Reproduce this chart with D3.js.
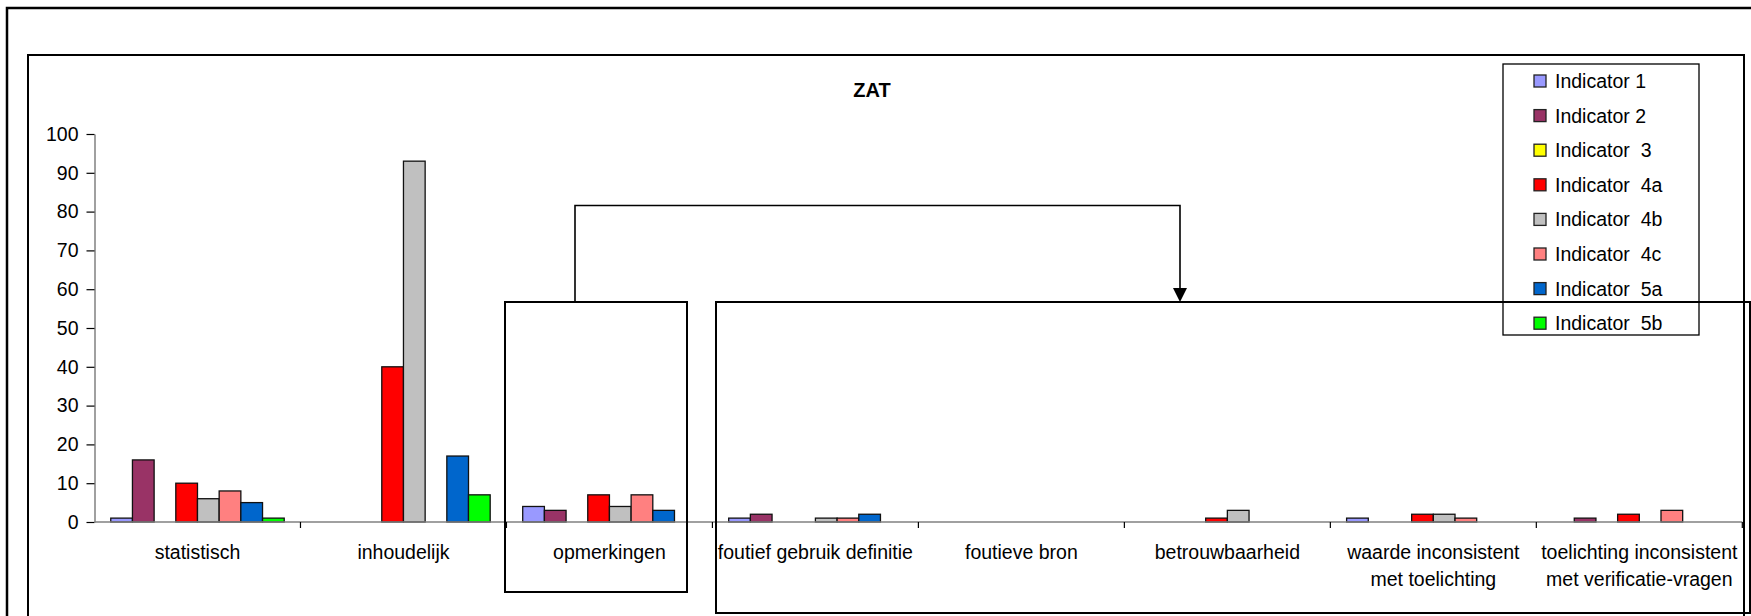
<!DOCTYPE html>
<html>
<head>
<meta charset="utf-8">
<style>
body {
    margin: 0;
    background: white;
}
.lbl {
    font-size: 19.5px;
    font-family: "Liberation Sans", Arial, sans-serif;
    fill: #000;
}
.title {
    font-size: 20px;
    font-weight: bold;
    font-family: "Liberation Sans", Arial, sans-serif;
}
</style>
<script src="https://d3js.org/d3.v7.min.js" charset="utf-8"></script>
</head>
<body>
<div id="chart"></div>
<script>
var categories = ["statistisch",
                  "inhoudelijk",
                  "opmerkingen",
                  "foutief gebruik definitie",
                  "foutieve bron",
                  "betrouwbaarheid",
                  "waarde inconsistent\nmet toelichting",
                  "toelichting inconsistent\nmet verificatie-vragen"];
var seriesNames = ["Indicator 1",
                   "Indicator 2",
                   "Indicator  3",
                   "Indicator  4a",
                   "Indicator  4b",
                   "Indicator  4c",
                   "Indicator  5a",
                   "Indicator  5b"];
var seriesColors = ["#9999FF", "#993366", "#FFFF00", "#FF0000",
                    "#C0C0C0", "#FF8080", "#0066CC", "#00FF00"];
// one array per indicator, values in category order
var ind1  = [1,  0, 4, 1, 0, 0, 1, 0];
var ind2  = [16, 0, 3, 2, 0, 0, 0, 1];
var ind3  = [0,  0, 0, 0, 0, 0, 0, 0];
var ind4a = [10, 40, 7, 0, 0, 1, 2, 2];
var ind4b = [6, 93, 4, 1, 0, 3, 2, 0];
var ind4c = [8,  0, 7, 1, 0, 0, 1, 3];
var ind5a = [5, 17, 3, 2, 0, 0, 0, 0];
var ind5b = [1,  7, 0, 0, 0, 0, 0, 0];
var seriesValues = [ind1, ind2, ind3, ind4a, ind4b, ind4c, ind5a, ind5b];
var yTicks = [0, 10, 20, 30, 40, 50, 60, 70, 80, 90, 100];
var chartTitle = "ZAT";

var W = 1751, H = 616;
var svg = d3.select("#chart").append("svg")
    .attr("width", W)
    .attr("height", H)
    .style("display", "block")
    .style("background", "white");

// outer frame and chart area frame (both run off the right / bottom)
svg.append("rect")
    .attr("x", 7).attr("y", 8).attr("width", 1760).attr("height", 640)
    .attr("fill", "none").attr("stroke", "#000").attr("stroke-width", 2.5);
svg.append("rect")
    .attr("x", 28).attr("y", 55).attr("width", 1716).attr("height", 620)
    .attr("fill", "none").attr("stroke", "#000").attr("stroke-width", 2);

var x0 = d3.scaleBand()
    .domain(categories)
    .range([94.5, 1742.3])
    .paddingInner(0)
    .paddingOuter(0);
var x1 = d3.scaleBand()
    .domain(seriesNames)
    .range([0, x0.bandwidth()])
    .paddingInner(0)
    .paddingOuter(0.75);
var y = d3.scaleLinear()
    .domain([0, 100])
    .range([522, 134]);

svg.append("text")
    .attr("class", "title")
    .attr("x", 872)
    .attr("y", 97)
    .attr("text-anchor", "middle")
    .text(chartTitle);

// y axis
var yAxis = svg.append("g")
    .attr("transform", "translate(" + x0.range()[0] + ",0)")
    .call(d3.axisLeft(y).tickValues(yTicks).tickSize(8).tickPadding(8).tickSizeOuter(0));
yAxis.select(".domain").attr("stroke", "#808080").attr("stroke-width", 1.5);
yAxis.selectAll(".tick line").attr("stroke", "#000").attr("stroke-width", 1.2);
yAxis.selectAll(".tick text")
    .attr("class", "lbl")
    .style("font-size", "19.5px")
    .style("font-family", "'Liberation Sans', Arial, sans-serif")
    .attr("fill", "#000");

// bars
var barData = [];
categories.forEach(function(c, ci) {
    seriesNames.forEach(function(s, si) {
        barData.push({cat: c, ser: s, color: seriesColors[si], v: seriesValues[si][ci]});
    });
});
svg.append("g").selectAll("rect")
    .data(barData.filter(function(d) {return d.v > 0;}))
    .enter()
    .append("rect")
    .attr("x", function(d) {return x0(d.cat) + x1(d.ser);})
    .attr("y", function(d) {return y(d.v);})
    .attr("width", x1.bandwidth())
    .attr("height", function(d) {return y(0) - y(d.v);})
    .attr("fill", function(d) {return d.color;})
    .attr("stroke", "#111")
    .attr("stroke-width", 1.3);

// x axis: baseline, ticks at the category boundaries, labels
svg.append("line")
    .attr("x1", x0.range()[0]).attr("x2", x0.range()[1])
    .attr("y1", y(0)).attr("y2", y(0))
    .attr("stroke", "#808080").attr("stroke-width", 1.5);
var bounds = categories.map(function(c) {return x0(c);}).concat([x0.range()[1]]);
svg.append("g").selectAll("line")
    .data(bounds.slice(1))
    .enter()
    .append("line")
    .attr("x1", function(d) {return d;}).attr("x2", function(d) {return d;})
    .attr("y1", y(0)).attr("y2", y(0) + 6)
    .attr("stroke", "#000").attr("stroke-width", 1.2);
var catLabels = svg.append("g").selectAll("text")
    .data(categories)
    .enter()
    .append("text")
    .attr("class", "lbl")
    .attr("text-anchor", "middle")
    .attr("x", function(d) {return x0(d) + x0.bandwidth() / 2;})
    .attr("y", 559);
catLabels.selectAll("tspan")
    .data(function(d) {return d.split("\n");})
    .enter()
    .append("tspan")
    .attr("x", function() {var p = this.parentNode; return p.getAttribute("x");})
    .attr("dy", function(d, i) {return i == 0 ? 0 : 27;})
    .text(function(d) {return d;});

// legend
var legend = svg.append("g");
legend.append("rect")
    .attr("x", 1503).attr("y", 64).attr("width", 196).attr("height", 271)
    .attr("fill", "white").attr("stroke", "#000").attr("stroke-width", 1.3);
var rows = legend.selectAll("g.row")
    .data(seriesNames)
    .enter()
    .append("g")
    .attr("class", "row")
    .attr("transform", function(d, i) {return "translate(0," + (81 + i * 34.6) + ")";});
rows.append("rect")
    .attr("x", 1534).attr("y", -6).attr("width", 12).attr("height", 12)
    .attr("fill", function(d, i) {return seriesColors[i];})
    .attr("stroke", "#222").attr("stroke-width", 1.3);
rows.append("text")
    .attr("class", "lbl")
    .attr("x", 1555)
    .attr("y", 7)
    .attr("xml:space", "preserve")
    .style("white-space", "pre")
    .text(function(d) {return d;});

// annotation boxes and arrow drawn over the chart
svg.append("rect")
    .attr("x", 505).attr("y", 302).attr("width", 182).attr("height", 290)
    .attr("fill", "none").attr("stroke", "#000").attr("stroke-width", 2);
svg.append("rect")
    .attr("x", 716).attr("y", 302).attr("width", 1034).attr("height", 311)
    .attr("fill", "none").attr("stroke", "#000").attr("stroke-width", 2);
svg.append("path")
    .attr("d", "M575,302V205.5H1180V289")
    .attr("fill", "none").attr("stroke", "#000").attr("stroke-width", 1.6);
svg.append("path")
    .attr("d", "M1173,288L1187,288L1180,302Z")
    .attr("fill", "#000");
</script>
</body>
</html>
